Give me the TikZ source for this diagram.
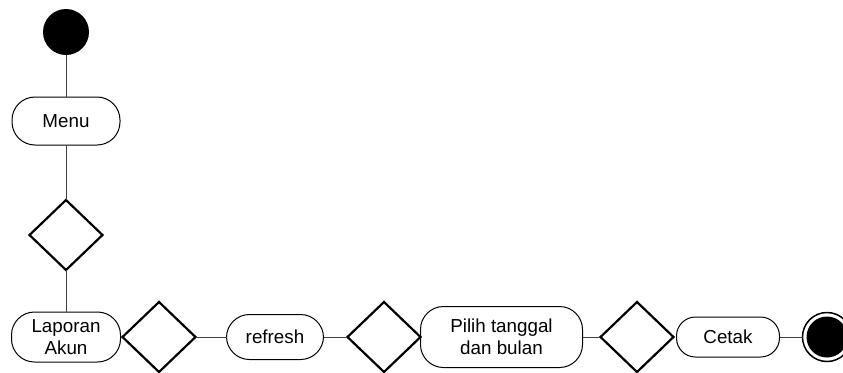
\documentclass[tikz,border=0pt]{standalone}
\usepackage{fontspec}
\setmainfont{Liberation Sans}
\usetikzlibrary{positioning,shapes.geometric}

\begin{document}
\begin{tikzpicture}[outer sep=0pt,
    act/.style={draw,rounded corners=11.5pt,inner sep=0pt,align=center,
      font=\fontsize{9.4pt}{11pt}\selectfont,line width=0.5pt},
    dec/.style={draw,diamond,line width=1.1pt,inner sep=0pt,
      minimum width=36.5pt,minimum height=35pt},
    start/.style={circle,fill=black,inner sep=0pt,minimum size=23pt},
    fin/.style={circle,draw,line width=0.75pt,inner sep=0pt,minimum size=24.5pt},
    finin/.style={circle,fill=black,inner sep=0pt,minimum size=20.5pt},
    c/.style={line width=0.5pt,black!75}]
    \useasboundingbox (0,0) rectangle (421.5pt,-186pt);
    \node[start] (s) at (33pt,-16pt) {};
    \node[act,below=21pt of s,minimum width=54pt,minimum height=24pt] (menu) {Menu};
    \node[dec,below=27.5pt of menu] (d1) {};
    \node[act,below=21pt of d1,minimum width=54.5pt,minimum height=25pt] (lap) {Laporan\\Akun};
    \node[dec,right=1pt of lap] (d2) {};
    \node[act,right=15.5pt of d2,minimum width=48.5pt,minimum height=22.5pt] (ref) {refresh};
    \node[dec,right=12pt of ref] (d3) {};
    \node[act,right=0pt of d3,minimum width=81pt,minimum height=30.5pt] (pil) {Pilih tanggal\\dan bulan};
    \node[dec,right=9pt of pil] (d4) {};
    \node[act,right=1.5pt of d4,rounded corners=9.5pt,minimum width=51.5pt,minimum height=20pt] (cet) {Cetak};
    \node[fin,right=11.5pt of cet] (e) {};
    \node[finin] at (e) {};
    \draw[c] (s)--(menu);
    \draw[c] (menu)--(d1);
    \draw[c] (d1)--(lap);
    \draw[c] (d2)--(ref);
    \draw[c] (ref)--(d3);
    \draw[c] (pil)--(d4);
    \draw[c] (cet)--(e);
\end{tikzpicture}
\end{document}
